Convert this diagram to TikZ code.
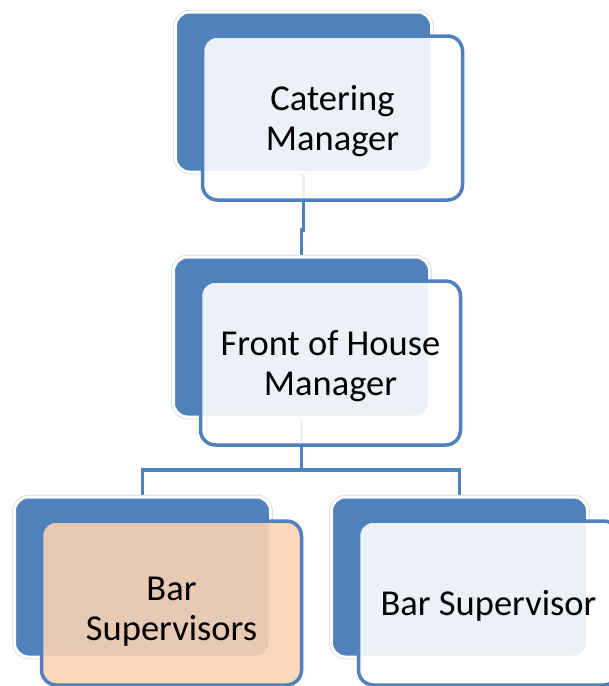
\documentclass[tikz,border=0pt]{standalone}
\usepackage{fontspec}
\setmainfont{Carlito}
\usepackage{tikz}
\definecolor{orgblue}{RGB}{79,129,189}
\definecolor{orgpeach}{RGB}{250,211,180}
\tikzset{ back/.style={fill=orgblue,draw=white,line width=3pt,rounded corners=14pt,
    minimum width=256pt,minimum height=160pt,preaction={draw=black!15,line width=4.5pt}},
  card/.style={fill=white,fill opacity=0.89,text opacity=1,draw=orgblue,line width=3.5pt,
    rounded corners=15pt,minimum width=260pt,minimum height=164pt,align=center,
    xshift=29pt,yshift=-26pt,text height=72pt,font=\fontsize{36.5}{40}\selectfont},
  link/.style={draw=orgblue,line width=3.5pt} }

\begin{document}
\begin{tikzpicture}[x=1pt,y=-1pt]
   \useasboundingbox (0,0) rectangle (609,686);
   \coordinate (cmb) at (303.5,92);
   \coordinate (fohb) at (301.5,337);
   \coordinate (bsb) at (142.5,577);
   \coordinate (bb) at (459.5,577);
   \draw[link] (cmb) -- ++(0,138) -| (fohb);
   \draw[link] (fohb) -- ++(0,133) -| (bsb);
   \draw[link] (fohb) -- ++(0,133) -| (bb);
   \node[back] (cmback) at (cmb) {};
   \node[card] (cm) at (cmb) {Catering\\Manager};
   \node[back] (fohback) at (fohb) {};
   \node[card] (foh) at (fohb) {Front of House\\Manager};
   \node[back] (bsback) at (bsb) {};
   \node[card,fill=orgpeach,text height=81pt] (bs) at (bsb) {Bar\\Supervisors};
   \node[back] (bback) at (bb) {};
   \node[card,text height=30pt] (b) at (bb) {Bar Supervisor};
\end{tikzpicture}
\end{document}
